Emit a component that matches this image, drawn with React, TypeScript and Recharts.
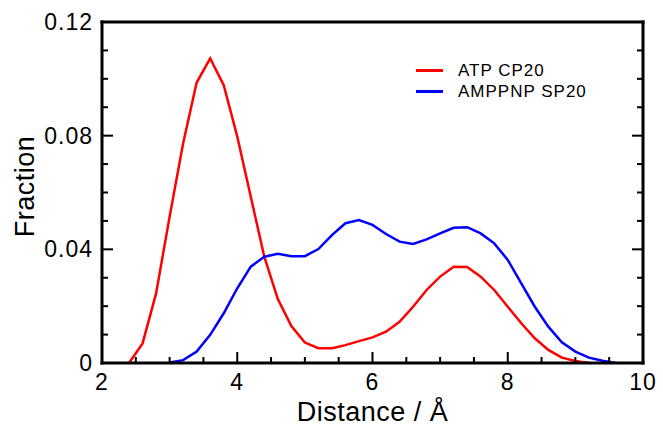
import React from "react";
import { Legend, Line, LineChart, XAxis, YAxis } from "recharts";

// distance (Å) sampled every 0.2
const atpX = [2.4, 2.6, 2.8, 3.0, 3.2, 3.4, 3.6, 3.8, 4.0, 4.2, 4.4, 4.6, 4.8, 5.0, 5.2, 5.4, 5.6, 5.8, 6.0, 6.2, 6.4, 6.6, 6.8, 7.0, 7.2, 7.4, 7.6, 7.8, 8.0, 8.2, 8.4, 8.6, 8.8, 9.0, 9.2];
const atpY = [0, 0.0069, 0.0245, 0.0515, 0.0773, 0.0987, 0.1072, 0.0978, 0.0797, 0.0585, 0.0374, 0.0225, 0.013, 0.0072, 0.0052, 0.0052, 0.0063, 0.0077, 0.009, 0.011, 0.0145, 0.0198, 0.0257, 0.0304, 0.0339, 0.0338, 0.0304, 0.0257, 0.0198, 0.014, 0.0087, 0.0046, 0.0019, 0.0007, 0];

const amppnpX = [3.0, 3.2, 3.4, 3.6, 3.8, 4.0, 4.2, 4.4, 4.6, 4.8, 5.0, 5.2, 5.4, 5.6, 5.8, 6.0, 6.2, 6.4, 6.6, 6.8, 7.0, 7.2, 7.4, 7.6, 7.8, 8.0, 8.2, 8.4, 8.6, 8.8, 9.0, 9.2, 9.4, 9.6];
const amppnpY = [0.0002, 0.001, 0.004, 0.0099, 0.0175, 0.0263, 0.0339, 0.0374, 0.0384, 0.0376, 0.0376, 0.0401, 0.045, 0.0492, 0.0503, 0.0486, 0.0454, 0.0427, 0.0419, 0.0435, 0.0456, 0.0476, 0.0478, 0.0456, 0.0421, 0.0363, 0.028, 0.0198, 0.0128, 0.0073, 0.004, 0.0019, 0.0008, 0];

const seriesNames = ["ATP CP20", "AMPPNP SP20"];
const seriesColors = ["#ff0000", "#0000ff"];

const xTicks = [2, 2.5, 3, 3.5, 4, 4.5, 5, 5.5, 6, 6.5, 7, 7.5, 8, 8.5, 9, 9.5, 10];
const yTicks = [0, 0.01, 0.02, 0.03, 0.04, 0.05, 0.06, 0.07, 0.08, 0.09, 0.1, 0.11, 0.12];
const xBounds = [2, 10];
const yBounds = [0, 0.12];

const atpData = atpX.map((x, i) => ({ x, y: atpY[i] }));
const amppnpData = amppnpX.map((x, i) => ({ x, y: amppnpY[i] }));

const FONT = "'Liberation Sans', Arial, Helvetica, sans-serif";
const MAJOR = 11;
const MINOR = 6;
const frameLine = { stroke: "#000", strokeWidth: 3, strokeLinecap: "square" as const };

const isMajorX = (v: number) => Math.abs(v % 2) < 1e-6;
const isMajorY = (v: number) => Math.round(v * 100) % 4 === 0;

function BottomTick({ x, y, payload }: any) {
  const major = isMajorX(payload.value);
  return (
    <g>
      <line x1={x} x2={x} y1={y} y2={y - (major ? MAJOR : MINOR)} stroke="#000" strokeWidth={2} />
      {major && (
        <text x={x} y={y + 27} textAnchor="middle" fontFamily={FONT} fontSize={23} letterSpacing={1} fill="#000">
          {payload.value}
        </text>
      )}
    </g>
  );
}

function TopTick({ x, y, payload }: any) {
  const major = isMajorX(payload.value);
  return <line x1={x} x2={x} y1={y} y2={y + (major ? MAJOR : MINOR)} stroke="#000" strokeWidth={2} />;
}

function LeftTick({ x, y, payload }: any) {
  const v = payload.value;
  const major = isMajorY(v);
  return (
    <g>
      <line x1={x} x2={x + (major ? MAJOR : MINOR)} y1={y} y2={y} stroke="#000" strokeWidth={2} />
      {major && (
        <text x={x - 9} y={y + 8} textAnchor="end" fontFamily={FONT} fontSize={23} letterSpacing={1} fill="#000">
          {v === 0 ? "0" : v.toFixed(2)}
        </text>
      )}
    </g>
  );
}

function RightTick({ x, y, payload }: any) {
  const major = isMajorY(payload.value);
  return <line x1={x} x2={x - (major ? MAJOR : MINOR)} y1={y} y2={y} stroke="#000" strokeWidth={2} />;
}

function FractionLabel({ viewBox }: any) {
  const cx = viewBox.x + 25;
  const cy = viewBox.y + viewBox.height / 2 - 6;
  return (
    <text
      x={cx}
      y={cy}
      transform={`rotate(-90, ${cx}, ${cy})`}
      textAnchor="middle"
      dominantBaseline="central"
      fontFamily={FONT}
      fontSize={27}
      letterSpacing={0.5}
      fill="#000"
    >
      Fraction
    </text>
  );
}

function LegendBox() {
  return (
    <div style={{ fontFamily: FONT, fontSize: 17, letterSpacing: 1, color: "#000" }}>
      {seriesNames.map((name, i) => (
        <div key={name} style={{ display: "flex", alignItems: "center", height: 21 }}>
          <span style={{ display: "inline-block", width: 27, height: 2.5, background: seriesColors[i], marginRight: 15 }} />
          <span>{name}</span>
        </div>
      ))}
    </div>
  );
}

export default function App() {
  return (
    <div style={{ position: "absolute", left: 0, top: 0, width: 663, height: 433, background: "#fff" }}>
      <LineChart width={663} height={433} margin={{ top: 21, right: 19, bottom: 0, left: 0 }}>
        <XAxis
          xAxisId="bottom"
          dataKey="x"
          type="number"
          domain={xBounds}
          ticks={xTicks}
          interval={0}
          allowDataOverflow
          height={70}
          tickSize={0}
          tickMargin={0}
          tickLine={false}
          axisLine={frameLine}
          tick={<BottomTick />}
          label={{ value: "Distance / Å", position: "insideBottom", offset: 12, fontFamily: FONT, fontSize: 27, letterSpacing: 0.5, fill: "#000" }}
        />
        <XAxis
          xAxisId="top"
          orientation="top"
          type="number"
          domain={xBounds}
          ticks={xTicks}
          interval={0}
          allowDataOverflow
          height={1}
          tickSize={0}
          tickMargin={0}
          tickLine={false}
          axisLine={frameLine}
          tick={<TopTick />}
        />
        <YAxis
          yAxisId="left"
          type="number"
          domain={yBounds}
          ticks={yTicks}
          interval={0}
          allowDataOverflow
          width={102}
          tickSize={0}
          tickMargin={0}
          tickLine={false}
          axisLine={frameLine}
          tick={<LeftTick />}
          label={<FractionLabel />}
        />
        <YAxis
          yAxisId="right"
          orientation="right"
          type="number"
          domain={yBounds}
          ticks={yTicks}
          interval={0}
          allowDataOverflow
          width={1}
          tickSize={0}
          tickMargin={0}
          tickLine={false}
          axisLine={frameLine}
          tick={<RightTick />}
        />
        <Legend
          layout="vertical"
          align="center"
          verticalAlign="middle"
          content={<LegendBox />}
          wrapperStyle={{ left: 416, top: 60, width: 220 }}
        />
        <Line
          xAxisId="bottom"
          yAxisId="left"
          data={atpData}
          dataKey="y"
          name={seriesNames[0]}
          type="linear"
          stroke={seriesColors[0]}
          strokeWidth={2.5}
          dot={false}
          isAnimationActive={false}
        />
        <Line
          xAxisId="bottom"
          yAxisId="left"
          data={amppnpData}
          dataKey="y"
          name={seriesNames[1]}
          type="linear"
          stroke={seriesColors[1]}
          strokeWidth={2.5}
          dot={false}
          isAnimationActive={false}
        />
      </LineChart>
    </div>
  );
}
